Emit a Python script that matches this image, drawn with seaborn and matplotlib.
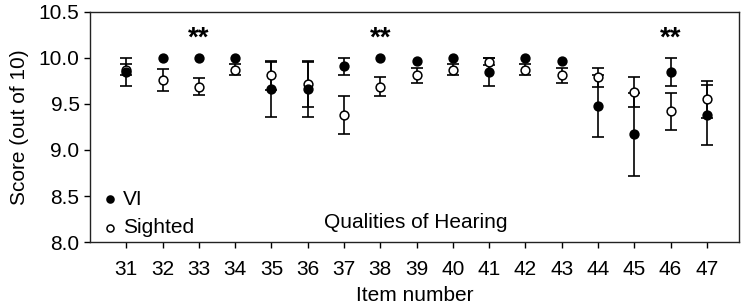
import numpy as np
import pandas as pd
import seaborn as sns
import matplotlib.pyplot as plt

# item numbers and mean scores
items = [31, 32, 33, 34, 35, 36, 37, 38, 39, 40, 41, 42, 43, 44, 45, 46, 47]
vi_mean = [9.85, 10.0, 10.0, 10.0, 9.66, 9.66, 9.91, 10.0, 9.97, 10.0, 9.85, 10.0, 9.97, 9.48, 9.17, 9.85, 9.38]
vi_err = [0.15, 0.0, 0.0, 0.0, 0.30, 0.30, 0.09, 0.0, 0.0, 0.0, 0.155, 0.0, 0.0, 0.34, 0.45, 0.155, 0.33]
sighted_mean = [9.87, 9.76, 9.69, 9.87, 9.81, 9.72, 9.38, 9.69, 9.81, 9.87, 9.96, 9.87, 9.81, 9.79, 9.63, 9.42, 9.55]
sighted_err = [0.06, 0.115, 0.09, 0.06, 0.16, 0.25, 0.21, 0.10, 0.085, 0.06, 0.04, 0.06, 0.085, 0.10, 0.16, 0.20, 0.20]
signif_items = [33, 38, 46]

vi = pd.DataFrame({"item": items, "score": vi_mean, "err": vi_err})
sig = pd.DataFrame({"item": items, "score": sighted_mean, "err": sighted_err})

sns.set_style("ticks")
plt.rcParams['font.family'] = ['Liberation Sans', 'DejaVu Sans']
plt.rcParams['text.color'] = 'black'
plt.rcParams['axes.labelcolor'] = 'black'
plt.rcParams['xtick.color'] = 'black'
plt.rcParams['ytick.color'] = 'black'

fig = plt.figure(figsize=(7.47, 3.07), dpi=100)
ax = fig.add_axes([0.1205, 0.2117, 0.8685, 0.7493])

# error bars (only where there is spread)
for d in (sig, vi):
    e = d[d["err"] > 0]
    ax.errorbar(e["item"], e["score"], yerr=e["err"], fmt="none",
                ecolor="black", elinewidth=1.2, capsize=4, capthick=1.2,
                zorder=2)

# markers
sns.scatterplot(data=sig, x="item", y="score", ax=ax, marker="o", s=40,
                facecolor="white", edgecolor="black", linewidth=1.1,
                label="Sighted", zorder=3)
sns.scatterplot(data=vi, x="item", y="score", ax=ax, marker="o", s=40,
                color="black", edgecolor="black", linewidth=1.1,
                label="VI", zorder=4)

for it in signif_items:
    ax.text(it, 10.21, "**", ha="center", va="center", fontsize=20,
            fontweight="bold")

ax.text(38.97, 8.215, "Qualities of Hearing", ha="center", va="center",
        fontsize=15)

ax.set_xlim(30, 47.88)
ax.set_ylim(8.0, 10.5)
ax.set_xticks(items)
ax.set_yticks(np.arange(8.0, 10.51, 0.5))
ax.set_yticklabels([f"{v:.1f}" for v in np.arange(8.0, 10.51, 0.5)])
ax.tick_params(axis="both", labelsize=15, length=4, width=1,
               direction="out")
ax.tick_params(axis="x", pad=9)
ax.set_xlabel("Item number", fontsize=15, labelpad=5)
ax.set_ylabel("Score (out of 10)", fontsize=15, labelpad=7)
for s in ax.spines.values():
    s.set_visible(True)
    s.set_color("#222222")
    s.set_linewidth(1.0)

handles, labels = ax.get_legend_handles_labels()
order = [labels.index("VI"), labels.index("Sighted")]
ax.legend([handles[i] for i in order], [labels[i] for i in order],
          loc="lower left", bbox_to_anchor=(-0.006, -0.042), frameon=False,
          fontsize=15, handletextpad=0.15, labelspacing=0.45,
          borderaxespad=0.3, handlelength=0.9, markerscale=0.8)

plt.savefig("out.png", dpi=100)
